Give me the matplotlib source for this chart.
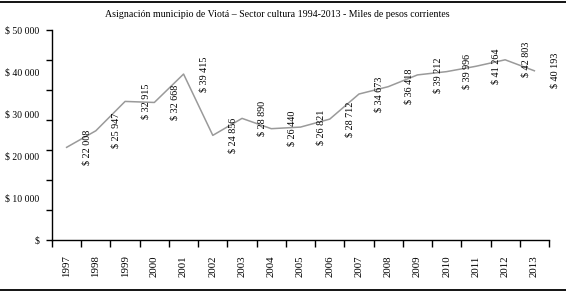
import numpy as np
import matplotlib
matplotlib.use("Agg")
import matplotlib.pyplot as plt
from matplotlib.lines import Line2D

plt.rcParams['font.family'] = ['Liberation Serif', 'DejaVu Serif']

years = ['1997', '1998', '1999', '2000', '2001', '2002', '2003', '2004', '2005',
         '2006', '2007', '2008', '2009', '2010', '2011', '2012', '2013']
values = [22008, 25947, 32915, 32668, 39415, 24856, 28890, 26440, 26821,
          28712, 34673, 36418, 39212, 39996, 41264, 42803, 40193]
ytick_values = [0, 10000, 20000, 30000, 40000, 50000]
title = 'Asignación municipio de Viotá – Sector cultura 1994-2013 - Miles de pesos corrientes'


def money(v):
    if v == 0:
        return '$'
    return '$ ' + f'{v:,}'.replace(',', ' ')


W, H = 566, 292
fig = plt.figure(figsize=(W / 100, H / 100), dpi=100)
ax = fig.add_axes([52 / W, (H - 240) / H, (549 - 52) / W, (240 - 29.5) / H])

x = np.arange(len(years))
ax.plot(x, values, color='#9a9a9a', lw=1.1)

# data labels, rotated and shifted right of each point
for xi, v in zip(x, values):
    ax.text(xi + 0.7, v, money(v), rotation=90, ha='center', va='center',
            fontsize=7.3, color='black')

ax.set_xlim(-0.5, len(years) - 0.5)
ax.set_ylim(0, 50000)

# x: ticks at category boundaries, labels at centres
ax.set_xticks(np.arange(len(years) + 1) - 0.5)
ax.set_xticklabels([])
ax.set_xticks(x, minor=True)
ax.set_xticklabels(years, minor=True, rotation=90, fontsize=7.8)
ax.tick_params(axis='x', which='major', length=5, width=1, direction='out')
ax.tick_params(axis='x', which='minor', length=0, pad=11)

# y: ticks at 7 divisions, labels every 10000
ax.yaxis.remove_overlapping_locs = False
ax.set_yticks(np.linspace(0, 50000, 8))
ax.set_yticklabels([])
ax.set_yticks(ytick_values, minor=True)
ax.set_yticklabels([money(v) for v in ytick_values], minor=True, fontsize=7)
ax.tick_params(axis='y', which='major', length=4.5, width=1, direction='out')
ax.tick_params(axis='y', which='minor', length=0, pad=9)

for s in ['top', 'right']:
    ax.spines[s].set_visible(False)
for s in ['left', 'bottom']:
    ax.spines[s].set_linewidth(1)

fig.text(277 / W, 1 - 14.5 / H, title, ha='center', va='center', fontsize=7.1)

# top and bottom rules of the figure
fig.add_artist(Line2D([0, 1], [1 - 1.5 / H] * 2, transform=fig.transFigure, color='black', lw=1.3))
fig.add_artist(Line2D([0, 1], [2 / H] * 2, transform=fig.transFigure, color='black', lw=1.3))

fig.savefig('out.png', dpi=100)
